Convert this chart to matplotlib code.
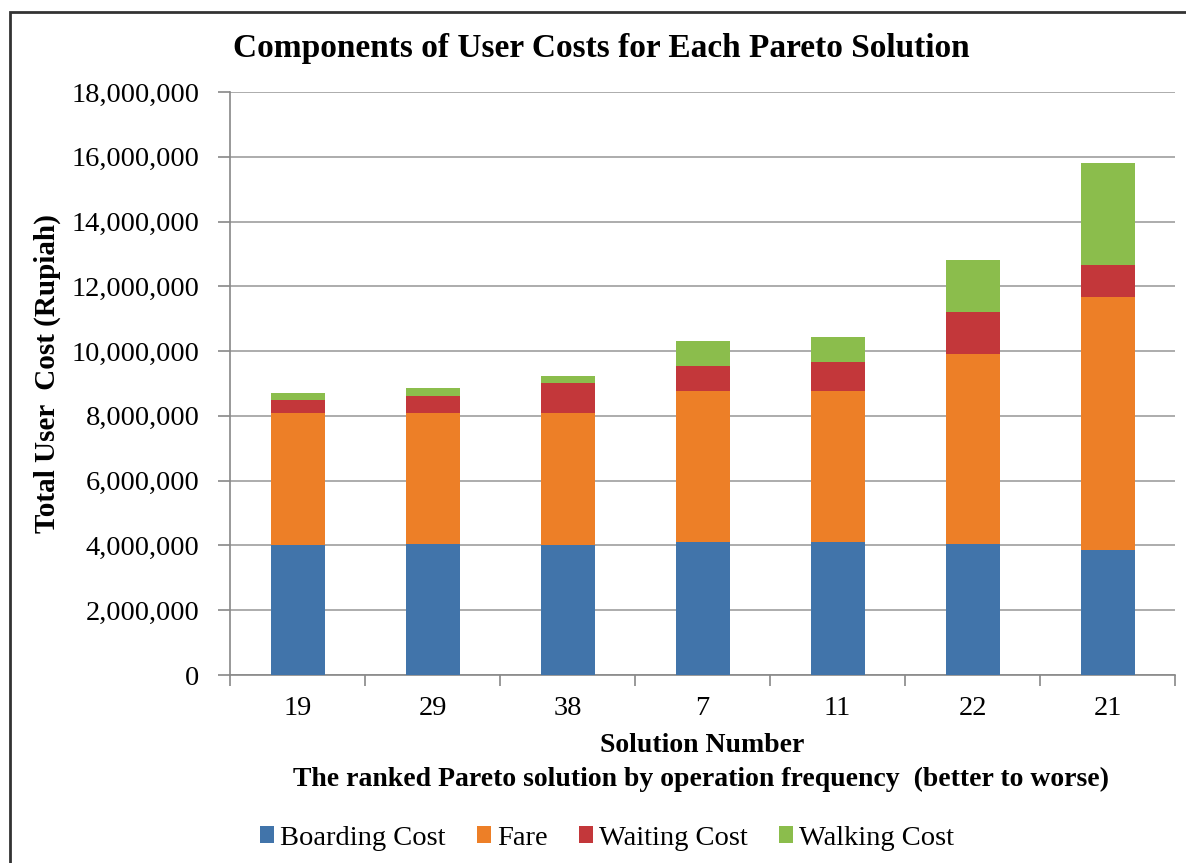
import numpy as np
import matplotlib
matplotlib.use("Agg")
import matplotlib.pyplot as plt
from matplotlib.ticker import FuncFormatter, MultipleLocator
from matplotlib.patches import Rectangle

#%% data
solutions = ["19", "29", "38", "7", "11", "22", "21"]
boarding = [4010000, 4050000, 4010000, 4100000, 4100000, 4050000, 3860000]
fare = [4070000, 4030000, 4070000, 4680000, 4680000, 5870000, 7810000]
waiting = [410000, 530000, 950000, 770000, 890000, 1300000, 980000]
walking = [210000, 250000, 200000, 770000, 780000, 1590000, 3170000]

series_names = ["Boarding Cost", "Fare", "Waiting Cost", "Walking Cost"]
series_colors = ["#4174AA", "#ED7F27", "#C3373A", "#8BBD4C"]

#%% figure
plt.rcParams['font.family'] = ['Liberation Serif', 'DejaVu Serif']
W, H = 1186, 863
fig = plt.figure(figsize=(W / 100, H / 100), dpi=100)
fig.patches.append(Rectangle((10 / W, -0.05), 1.2, 1 - 12 / H + 0.05, transform=fig.transFigure,
                             fill=False, edgecolor="#333333", linewidth=2.0))

ax = fig.add_axes([230 / W, (H - 675) / H, 945 / W, 583 / H])
x = np.arange(len(solutions))
bottom = np.zeros(len(solutions))
for name, vals, col in zip(series_names, [boarding, fare, waiting, walking], series_colors):
    ax.bar(x, vals, width=0.4, bottom=bottom, color=col, label=name, zorder=3)
    bottom += np.array(vals)

ax.set_xlim(-0.5, len(solutions) - 0.5)
ax.set_ylim(0, 18000000)
ax.yaxis.set_major_locator(MultipleLocator(2000000))
ax.yaxis.set_major_formatter(FuncFormatter(lambda v, p: f"{int(v):,}"))
ax.grid(axis='y', color='#A6A6A6', linewidth=1.3, zorder=0)
ax.set_xticks(x)
ax.set_xticklabels(solutions)
ax.set_xticks(np.arange(-0.5, len(solutions)), minor=True)
ax.tick_params(axis='x', which='major', length=0, pad=15, labelsize=20.5)
ax.tick_params(axis='x', which='minor', length=8, color='#888888', width=1.2)
ax.tick_params(axis='y', length=9, color='#888888', width=1.2, pad=13, labelsize=20.5)
for s in ['top', 'right']:
    ax.spines[s].set_visible(False)
for s in ['left', 'bottom']:
    ax.spines[s].set_color('#888888')
    ax.spines[s].set_linewidth(1.2)

fig.text(601 / W, 1 - 48 / H, "Components of User Costs for Each Pareto Solution",
         ha='center', va='center', fontsize=24, fontweight='bold')
fig.text(47 / W, 1 - 374 / H, "Total User  Cost (Rupiah)", rotation=90,
         ha='center', va='center', fontsize=21, fontweight='bold')
fig.text(702 / W, 1 - 746 / H, "Solution Number", ha='center', va='center',
         fontsize=20, fontweight='bold')
fig.text(701 / W, 1 - 779 / H, "The ranked Pareto solution by operation frequency  (better to worse)",
         ha='center', va='center', fontsize=20, fontweight='bold')

fig.legend(loc='center', bbox_to_anchor=(607 / W, 1 - 838 / H), ncol=4, frameon=False,
           fontsize=20.5, handlelength=0.5, handleheight=0.5, handletextpad=0.2,
           columnspacing=1.1)

fig.savefig("out.png", dpi=100)
